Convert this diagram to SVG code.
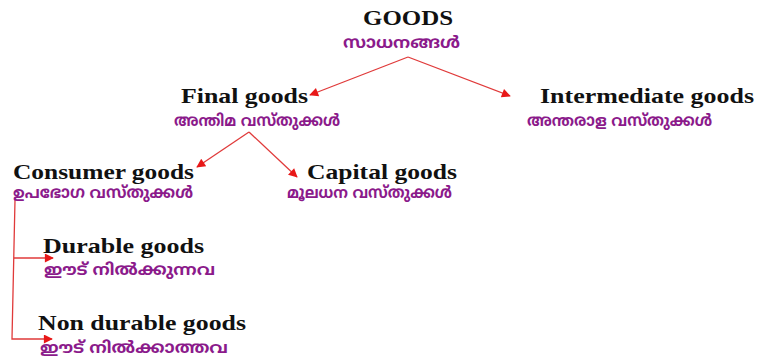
<svg xmlns="http://www.w3.org/2000/svg" width="757" height="361" viewBox="0 0 757 361">
<style>
.en{font-family:"Liberation Serif","Times New Roman",serif;font-weight:bold;font-size:22px;fill:#111}
.ml{font-family:"Noto Sans Malayalam","Noto Sans","DejaVu Sans",sans-serif;font-weight:bold;font-size:16px;fill:#8b1a8b}
.c{fill:none;stroke:#e03a3a;stroke-width:1.3}
</style>
<defs>
<marker id="ah" viewBox="0 0 10 10" refX="9" refY="5" markerWidth="13" markerHeight="9" markerUnits="userSpaceOnUse" orient="auto">
<path d="M0,0L10,5L0,10z" fill="#e81818"/>
</marker>
</defs>
<rect width="757" height="361" fill="#fff"/>
<g id="connectors">
<path class="c" d="M408,57L310,95" marker-end="url(#ah)"/>
<path class="c" d="M408,57L510,96" marker-end="url(#ah)"/>
<path class="c" d="M249,132L197,167" marker-end="url(#ah)"/>
<path class="c" d="M249,132L297,177" marker-end="url(#ah)"/>
<path class="c" d="M15,200L12,339L52,339" marker-end="url(#ah)"/>
<path class="c" d="M14,258L53,258" marker-end="url(#ah)"/>
</g>
<g id="goods">
<text class="en" x="363" y="25" textLength="90" lengthAdjust="spacingAndGlyphs">GOODS</text>
<text class="ml" x="343" y="48" textLength="117" lengthAdjust="spacingAndGlyphs">സാധനങ്ങൾ</text>
</g>
<g id="final">
<text class="en" x="181" y="103" textLength="127" lengthAdjust="spacingAndGlyphs">Final goods</text>
<text class="ml" x="174" y="126" textLength="166" lengthAdjust="spacingAndGlyphs">അന്തിമ വസ്തുക്കൾ</text>
</g>
<g id="intermediate">
<text class="en" x="540" y="103" textLength="214" lengthAdjust="spacingAndGlyphs">Intermediate goods</text>
<text class="ml" x="527" y="126" textLength="185" lengthAdjust="spacingAndGlyphs">അന്തരാള വസ്തുക്കൾ</text>
</g>
<g id="consumer">
<text class="en" x="13" y="179" textLength="181" lengthAdjust="spacingAndGlyphs">Consumer goods</text>
<text class="ml" x="13" y="198" textLength="180" lengthAdjust="spacingAndGlyphs">ഉപഭോഗ വസ്തുക്കൾ</text>
</g>
<g id="capital">
<text class="en" x="307" y="179" textLength="150" lengthAdjust="spacingAndGlyphs">Capital goods</text>
<text class="ml" x="287" y="198" textLength="165" lengthAdjust="spacingAndGlyphs">മൂലധന വസ്തുക്കൾ</text>
</g>
<g id="durable">
<text class="en" x="43" y="253" textLength="161" lengthAdjust="spacingAndGlyphs">Durable goods</text>
<text class="ml" x="44" y="275" textLength="171" lengthAdjust="spacingAndGlyphs">ഈട് നിൽക്കുന്നവ</text>
</g>
<g id="nondurable">
<text class="en" x="38" y="330" textLength="208" lengthAdjust="spacingAndGlyphs">Non durable goods</text>
<text class="ml" x="40" y="353" textLength="188" lengthAdjust="spacingAndGlyphs">ഈട് നിൽക്കാത്തവ</text>
</g>
</svg>
